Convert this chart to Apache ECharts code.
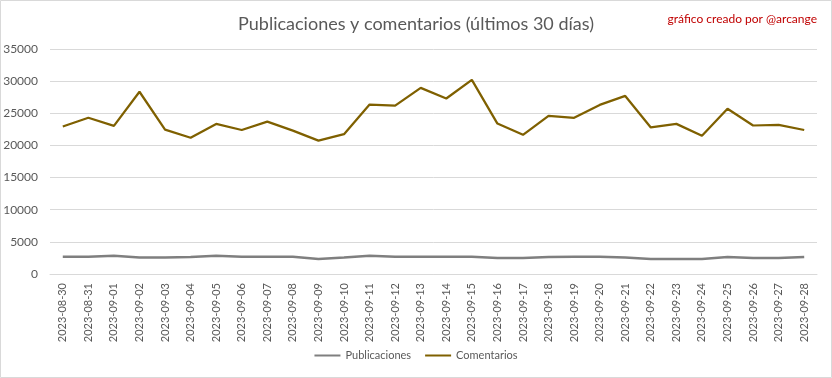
<!DOCTYPE html>
<html>
<head>
<meta charset="utf-8">
<script src="https://cdn.jsdelivr.net/npm/echarts@6/dist/echarts.min.js"></script>
<style>html,body{margin:0;padding:0;background:#fff}#c{width:832px;height:378px}</style>
</head>
<body>
<div id="c"></div>
<script>
const categories = ["2023-08-30","2023-08-31","2023-09-01","2023-09-02","2023-09-03","2023-09-04","2023-09-05","2023-09-06","2023-09-07","2023-09-08","2023-09-09","2023-09-10","2023-09-11","2023-09-12","2023-09-13","2023-09-14","2023-09-15","2023-09-16","2023-09-17","2023-09-18","2023-09-19","2023-09-20","2023-09-21","2023-09-22","2023-09-23","2023-09-24","2023-09-25","2023-09-26","2023-09-27","2023-09-28"];
const publicaciones = [2700,2700,2850,2550,2550,2650,2850,2700,2700,2700,2350,2550,2850,2700,2700,2700,2700,2500,2500,2650,2700,2700,2550,2350,2350,2350,2650,2500,2500,2650];
const comentarios = [22950,24300,23050,28350,22450,21200,23350,22400,23700,22300,20750,21750,26350,26200,28950,27300,30200,23400,21650,24600,24300,26300,27700,22800,23350,21500,25700,23100,23200,22400];
const yTicks = {min:0, max:35000, interval:5000};
const FONT = 'Lato, "Open Sans", sans-serif';

const chart = echarts.init(document.getElementById('c'));
chart.setOption({
  animation:false,
  backgroundColor:'#fff',
  textStyle:{fontFamily:FONT},
  title:[
    {text:'Publicaciones y comentarios (últimos 30 días)', left:'center', top:10,
     textStyle:{fontSize:18, fontWeight:'normal', color:'#595959', fontFamily:FONT}},
    {text:'gráfico creado por @arcange', right:10, top:8,
     textStyle:{fontSize:12, fontWeight:'normal', color:'#C00000', fontFamily:FONT}}
  ],
  graphic:[{type:'rect', shape:{x:0.5,y:0.5,width:831,height:377}, style:{fill:'none', stroke:'#D9D9D9', lineWidth:1}, silent:true}],
  legend:{bottom:12, left:'center', icon:'rect', itemWidth:26, itemHeight:2, itemGap:14,
    textStyle:{color:'#595959', fontSize:11, fontFamily:FONT},
    data:['Publicaciones','Comentarios']},
  grid:{left:50, right:15, top:49, bottom:104},
  xAxis:{type:'category', data:categories, boundaryGap:true,
    axisLine:{lineStyle:{color:'#D9D9D9'}}, axisTick:{show:false},
    axisLabel:{rotate:90, interval:0, color:'#595959', fontSize:11, margin:9, fontFamily:FONT}},
  yAxis:{type:'value', min:yTicks.min, max:yTicks.max, interval:yTicks.interval,
    axisLine:{show:false}, axisTick:{show:false},
    axisLabel:{color:'#595959', fontSize:12, margin:12, fontFamily:FONT, formatter:function(v){return String(v);}},
    splitLine:{lineStyle:{color:'#D9D9D9'}}},
  series:[
    {name:'Publicaciones', type:'line', data:publicaciones, showSymbol:false, symbol:'none',
     lineStyle:{color:'#7F7F7F', width:2.5}, itemStyle:{color:'#7F7F7F'}},
    {name:'Comentarios', type:'line', data:comentarios, showSymbol:false, symbol:'none',
     lineStyle:{color:'#7F6000', width:2.25}, itemStyle:{color:'#7F6000'}}
  ]
});
</script>
</body>
</html>
